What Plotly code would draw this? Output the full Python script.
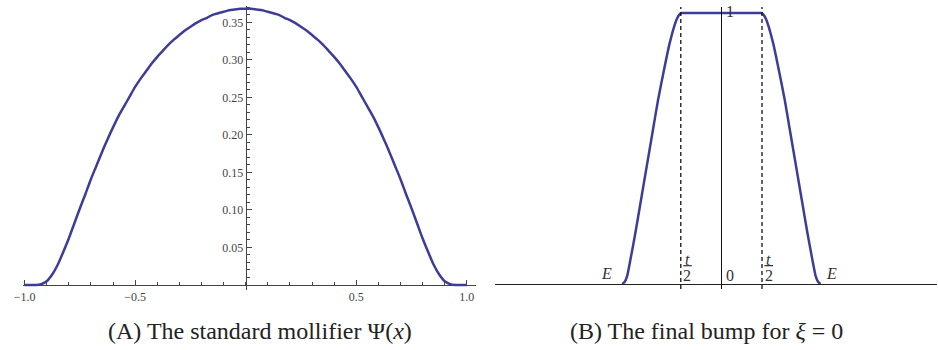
import plotly.graph_objects as go

# panel A: the standard mollifier (step 0.025)
moll_x = [-1.0, -0.975, -0.95, -0.925, -0.9, -0.875, -0.85, -0.825, -0.8, -0.775,
          -0.75, -0.725, -0.7, -0.675, -0.65, -0.625, -0.6, -0.575, -0.55, -0.525,
          -0.5, -0.475, -0.45, -0.425, -0.4, -0.375, -0.35, -0.325, -0.3, -0.275,
          -0.25, -0.225, -0.2, -0.175, -0.15, -0.125, -0.1, -0.075, -0.05, -0.025,
          0.0,
          0.025, 0.05, 0.075, 0.1, 0.125, 0.15, 0.175, 0.2, 0.225, 0.25,
          0.275, 0.3, 0.325, 0.35, 0.375, 0.4, 0.425, 0.45, 0.475, 0.5,
          0.525, 0.55, 0.575, 0.6, 0.625, 0.65, 0.675, 0.7, 0.725, 0.75,
          0.775, 0.8, 0.825, 0.85, 0.875, 0.9, 0.925, 0.95, 0.975, 1.0]
moll_y = [0.0, 0.0, 0.0, 0.001, 0.005, 0.014, 0.027, 0.044, 0.062, 0.082,
          0.102, 0.121, 0.141, 0.159, 0.177, 0.194, 0.210, 0.225, 0.238, 0.251,
          0.264, 0.275, 0.285, 0.295, 0.304, 0.312, 0.320, 0.327, 0.333, 0.339,
          0.344, 0.349, 0.353, 0.356, 0.360, 0.362, 0.364, 0.366, 0.367, 0.368,
          0.368,
          0.368, 0.367, 0.366, 0.364, 0.362, 0.360, 0.356, 0.353, 0.349, 0.344,
          0.339, 0.333, 0.327, 0.320, 0.312, 0.304, 0.295, 0.285, 0.275, 0.264,
          0.251, 0.238, 0.225, 0.210, 0.194, 0.177, 0.159, 0.141, 0.121, 0.102,
          0.082, 0.062, 0.044, 0.027, 0.014, 0.005, 0.001, 0.0, 0.0, 0.0]
moll_xticks = [-1.0, -0.5, 0.5, 1.0]
moll_xlabels = ["\u22121.0", "\u22120.5", "0.5", "1.0"]
moll_yticks = [0.05, 0.10, 0.15, 0.20, 0.25, 0.30, 0.35]
moll_ylabels = ["0.05", "0.10", "0.15", "0.20", "0.25", "0.30", "0.35"]

# panel B: the final bump (units with t = 1)
bump_x = [-1.22, -1.19, -1.16, -1.12, -1.06, -0.99, -0.92, -0.85, -0.78, -0.70, -0.64,
          -0.58, -0.55, -0.52, -0.49, -0.45, -0.2, 0.0, 0.2, 0.45,
          0.49, 0.52, 0.55, 0.58, 0.64, 0.70, 0.78, 0.85, 0.92, 0.99, 1.06, 1.12,
          1.16, 1.19, 1.22]
bump_y = [0.0, 0.008, 0.03, 0.09, 0.187, 0.31, 0.433, 0.556, 0.679, 0.80, 0.885,
          0.952, 0.977, 0.993, 1.0, 1.0, 1.0, 1.0, 1.0, 1.0,
          1.0, 0.993, 0.977, 0.952, 0.885, 0.80, 0.679, 0.556, 0.433, 0.31, 0.187, 0.09,
          0.03, 0.008, 0.0]
half_t = 0.5
e_label_x = [-1.41, 1.36]

W, H = 938, 350
FONT = "Liberation Serif"
BLUE = "#3d3d99"
AXC = "#444444"


def px(p):
    return p / W


def py(p):
    return (H - p) / H


fig = go.Figure()

fig.add_trace(go.Scatter(
    x=moll_x, y=moll_y, mode="lines", xaxis="x", yaxis="y",
    line=dict(color=BLUE, width=2.5, shape="spline", smoothing=0.8),
    showlegend=False, hoverinfo="skip"))

fig.add_trace(go.Scatter(
    x=bump_x, y=bump_y, mode="lines", xaxis="x2", yaxis="y2",
    line=dict(color=BLUE, width=2.5, shape="spline", smoothing=0.6),
    showlegend=False, hoverinfo="skip"))

tickfont = dict(family=FONT, size=12, color=AXC)

fig.update_layout(
    width=W, height=H,
    margin=dict(l=0, r=0, t=0, b=0),
    paper_bgcolor="white", plot_bgcolor="white",
    xaxis=dict(
        domain=[px(14), px(472)], range=[(14 - 239) / 223.3, (472 - 239) / 223.3],
        anchor="free", position=py(285),
        showline=True, linecolor=AXC, linewidth=1.2, layer="below traces",
        showgrid=False, zeroline=False,
        tickmode="array", tickvals=moll_xticks, ticktext=moll_xlabels,
        ticks="inside", ticklen=5, tickwidth=1, tickcolor=AXC, tickfont=tickfont,
        minor=dict(tickmode="linear", tick0=0, dtick=0.1, ticks="inside",
                   ticklen=3, tickwidth=1, tickcolor=AXC, showgrid=False),
    ),
    yaxis=dict(
        domain=[py(290), py(6)], range=[(285 - 290) / 750.5, (285 - 6) / 750.5],
        anchor="free", position=px(239),
        showline=True, linecolor=AXC, linewidth=1.2, layer="below traces",
        showgrid=False, zeroline=False,
        tickmode="array", tickvals=moll_yticks, ticktext=moll_ylabels,
        ticks="inside", ticklen=5, tickwidth=1, tickcolor=AXC, tickfont=tickfont,
        minor=dict(tickmode="linear", tick0=0, dtick=0.01, ticks="inside",
                   ticklen=3, tickwidth=1, tickcolor=AXC, showgrid=False),
    ),
    xaxis2=dict(
        domain=[px(491), px(937)], range=[(491 - 719.3) / 82, (937 - 719.3) / 82],
        anchor="free", position=py(284),
        showline=True, linecolor="#222222", linewidth=1.3,
        showgrid=False, zeroline=False, showticklabels=False, ticks="",
    ),
    yaxis2=dict(
        domain=[py(289), py(7)], range=[(284 - 289) / 271, (284 - 7) / 271],
        anchor="free", position=px(719.3),
        showline=True, linecolor="#111111", linewidth=1.4,
        showgrid=False, zeroline=False, showticklabels=False, ticks="",
    ),
)

# dashed guides at +-t/2
for xv in (-half_t, half_t):
    fig.add_shape(type="line", xref="x2", yref="y2", x0=xv, x1=xv,
                  y0=(284 - 289) / 271, y1=(284 - 5) / 271,
                  line=dict(color="#111111", width=1.3, dash="4px,3px"))
    # fraction bar of t/2
    fig.add_shape(type="line", xref="x2", yref="y2", x0=xv + 0.03, x1=xv + 0.135,
                  y0=0.0675, y1=0.0675, line=dict(color="#333333", width=1.2))

lab = dict(family=FONT, size=16, color="#333333")
for xv in e_label_x:
    fig.add_annotation(x=xv, y=0.04, xref="x2", yref="y2", text="<i>E</i>",
                       showarrow=False, font=lab)
for xv in (-half_t, half_t):
    fig.add_annotation(x=xv + 0.082, y=0.092, xref="x2", yref="y2", text="<i>t</i>",
                       showarrow=False, font=dict(family=FONT, size=16, color="#333333"))
    fig.add_annotation(x=xv + 0.082, y=0.03, xref="x2", yref="y2", text="2",
                       showarrow=False, font=dict(family=FONT, size=16, color="#333333"))
fig.add_annotation(x=0.106, y=0.033, xref="x2", yref="y2", text="0",
                   showarrow=False, font=lab)
fig.add_annotation(x=0.106, y=1.004, xref="x2", yref="y2", text="1",
                   showarrow=False, font=lab)

cap = dict(family=FONT, size=24, color="#222222")
fig.add_annotation(x=px(253), y=py(331), xref="paper", yref="paper",
                   xanchor="center", yanchor="middle",
                   text="(A) The standard mollifier \u03a8(<i>x</i>)",
                   showarrow=False, font=cap)
fig.add_annotation(x=px(704), y=py(331), xref="paper", yref="paper",
                   xanchor="center", yanchor="middle",
                   text="(B) The final bump for <i>\u03be</i> = 0",
                   showarrow=False, font=cap)

fig.write_html("out.html", config={"displayModeBar": False},
               post_script="document.body.style.margin='0';")
